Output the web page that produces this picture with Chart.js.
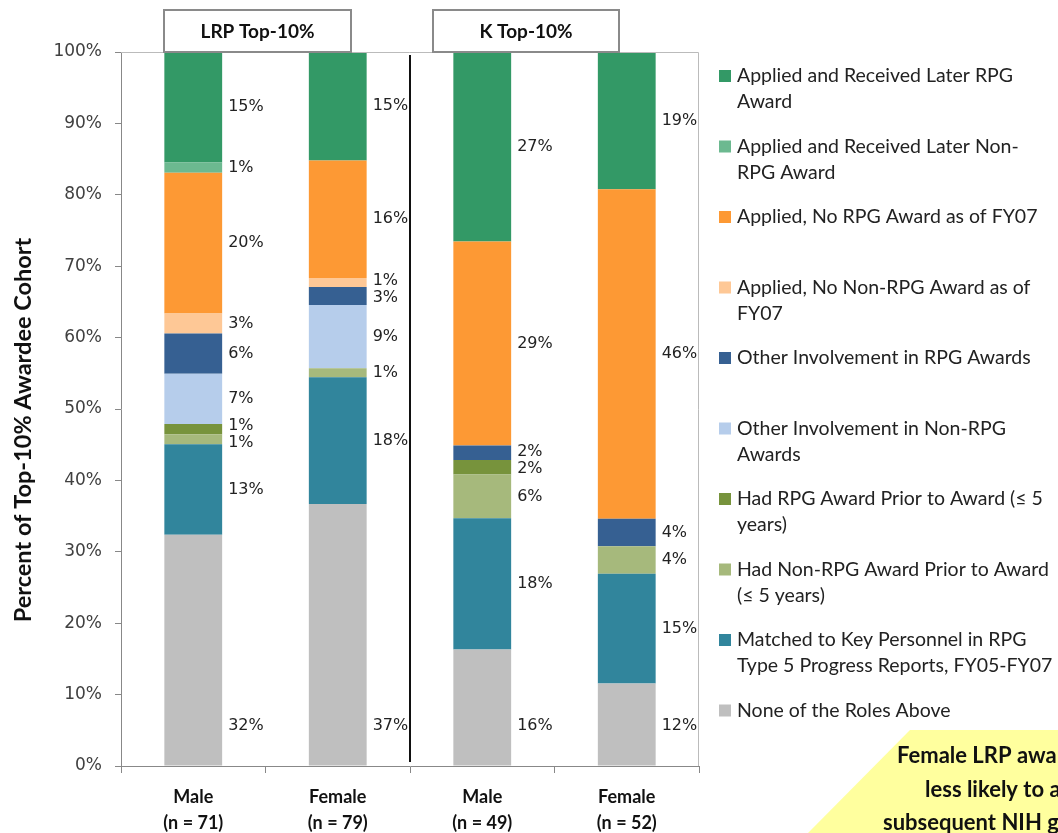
<!DOCTYPE html>
<html>
<head>
<meta charset="utf-8">
<title>Top-10% awardee cohort</title>
<script src="https://cdn.jsdelivr.net/npm/chart.js@4.4.1/dist/chart.umd.min.js"></script>
<style>
  html, body { margin: 0; padding: 0; background: #fff; }
  canvas { display: block; }
</style>
</head>
<body>
<canvas id="myChart" width="1058" height="833"></canvas>
<script>
// categories (two-line tick labels) and the cohort each pair belongs to
const categories = [['Male', '(n = 71)'], ['Female', '(n = 79)'], ['Male', '(n = 49)'], ['Female', '(n = 52)']];
const groupLabels = ['LRP Top-10%', 'K Top-10%'];
const yTicks = [0, 10, 20, 30, 40, 50, 60, 70, 80, 90, 100];

// series, bottom of the stack first (percent of cohort)
const noneOfRoles      = [32.39, 36.71, 16.33, 11.54];
const matchedKeyPers   = [12.68, 17.72, 18.37, 15.38];
const nonRpgPrior      = [1.41, 1.27, 6.12, 3.85];
const rpgPrior         = [1.41, 0, 2.04, 0];
const otherNonRpg      = [7.04, 8.86, 0, 0];
const otherRpg         = [5.63, 2.53, 2.04, 3.85];
const appliedNoNonRpg  = [2.82, 1.27, 0, 0];
const appliedNoRpg     = [19.72, 16.46, 28.57, 46.15];
const receivedNonRpg   = [1.41, 0, 0, 0];
const receivedRpg      = [15.49, 15.19, 26.53, 19.23];

// legend text as it wraps in the original
const seriesNames = [
  ['None of the Roles Above'],
  ['Matched to Key Personnel in RPG', 'Type 5 Progress Reports, FY05-FY07'],
  ['Had Non-RPG Award Prior to Award', '(≤ 5 years)'],
  ['Had RPG Award Prior to Award (≤ 5', 'years)'],
  ['Other Involvement in Non-RPG', 'Awards'],
  ['Other Involvement in RPG Awards'],
  ['Applied, No Non-RPG Award as of', 'FY07'],
  ['Applied, No RPG Award as of FY07'],
  ['Applied and Received Later Non-', 'RPG Award'],
  ['Applied and Received Later RPG', 'Award']
];
const seriesValues = [noneOfRoles, matchedKeyPers, nonRpgPrior, rpgPrior, otherNonRpg,
  otherRpg, appliedNoNonRpg, appliedNoRpg, receivedNonRpg, receivedRpg];
const seriesColors = ['#BFBFBF', '#31859C', '#A6B97C', '#77933C', '#B6CDEB',
  '#366092', '#FEC896', '#FD9934', '#6CB990', '#339966'];

const calloutLines = ['Female LRP awardees were', 'less likely to apply for', 'subsequent NIH grants'];

// value labels to the right of each segment, nudged apart when they crowd
const segmentLabels = {
  id: 'segmentLabels',
  afterDatasetsDraw(chart) {
    const ctx = chart.ctx;
    ctx.save();
    ctx.font = '16px "DejaVu Sans"';
    ctx.fillStyle = '#222';
    ctx.textAlign = 'left';
    ctx.textBaseline = 'middle';
    categories.forEach((c, i) => {
      let items = [];
      chart.data.datasets.forEach((ds, d) => {
        const v = ds.data[i];
        if (!v) return;
        const bar = chart.getDatasetMeta(d).data[i];
        let y = (bar.y + bar.base) / 2;
        // the bottom (grey) segment keeps its label near the axis
        if (d === 0) y = Math.max(y, bar.base - 40);
        items.push({ y: y, x: bar.x + bar.width / 2 + 6, text: Math.round(v) + '%' });
      });
      items.sort((a, b) => a.y - b.y);
      for (let k = 0; k < 30; k++) {
        for (let j = 1; j < items.length; j++) {
          const gap = items[j].y - items[j - 1].y;
          if (gap < 17) {
            const push = (17 - gap) / 2;
            items[j].y += push;
            items[j - 1].y -= push;
          }
        }
      }
      items.forEach(it => ctx.fillText(it.text, it.x, it.y));
    });
    ctx.restore();
  }
};

// plot frame, group divider, header boxes, y title, legend, callout
const decorations = {
  id: 'decorations',
  afterDraw(chart) {
    const ctx = chart.ctx;
    const area = chart.chartArea;
    const x = chart.scales.x;
    ctx.save();

    ctx.strokeStyle = '#BBBBBB';
    ctx.lineWidth = 1;
    ctx.beginPath();
    ctx.moveTo(area.left, area.top + 0.5);
    ctx.lineTo(area.right - 0.5, area.top + 0.5);
    ctx.lineTo(area.right - 0.5, area.bottom);
    ctx.stroke();

    const mid = Math.round(x.getPixelForValue(1.5));
    ctx.strokeStyle = '#111';
    ctx.lineWidth = 2;
    ctx.beginPath();
    ctx.moveTo(mid, area.top + 3);
    ctx.lineTo(mid, area.bottom - 4);
    ctx.stroke();

    const boxes = [[164, 187], [433, 186]];
    groupLabels.forEach((g, i) => {
      const [bx, bw] = boxes[i];
      ctx.fillStyle = '#fff';
      ctx.fillRect(bx, 10, bw, 42);
      ctx.strokeStyle = '#8A8A8A';
      ctx.lineWidth = 2;
      ctx.strokeRect(bx, 10, bw, 42);
      ctx.fillStyle = '#111';
      ctx.font = 'bold 19px Lato';
      ctx.textAlign = 'center';
      ctx.textBaseline = 'middle';
      ctx.fillText(g, bx + bw / 2, 32);
    });

    ctx.save();
    ctx.translate(23, 430);
    ctx.rotate(-Math.PI / 2);
    ctx.font = 'bold 23.5px Lato';
    ctx.fillStyle = '#111';
    ctx.textAlign = 'center';
    ctx.textBaseline = 'middle';
    ctx.fillText('Percent of Top-10% Awardee Cohort', 0, 0);
    ctx.restore();

    ctx.font = '19.5px Lato';
    ctx.textAlign = 'left';
    ctx.textBaseline = 'middle';
    for (let k = 0; k < seriesNames.length; k++) {
      const s = seriesNames.length - 1 - k;
      const y0 = 76 + k * 70.5;
      ctx.fillStyle = seriesColors[s];
      ctx.fillRect(719, y0 - 6, 12, 12);
      ctx.fillStyle = '#222';
      seriesNames[s].forEach((line, l) => ctx.fillText(line, 737, y0 + l * 26));
    }

    ctx.fillStyle = '#FFFF9E';
    ctx.beginPath();
    ctx.moveTo(910, 730);
    ctx.lineTo(1058, 730);
    ctx.lineTo(1058, 833);
    ctx.lineTo(808, 833);
    ctx.closePath();
    ctx.fill();
    ctx.fillStyle = '#111';
    ctx.font = 'bold 22px Lato';
    const starts = [897, 925, 883];
    calloutLines.forEach((t, i) => ctx.fillText(t, starts[i], 756 + i * 33.5));

    ctx.restore();
  }
};

const config = {
  type: 'bar',
  data: {
    labels: categories,
    datasets: seriesValues.map((vals, i) => ({
      label: seriesNames[i].join(' '),
      data: vals,
      backgroundColor: seriesColors[i],
      borderWidth: 0,
      barPercentage: 0.4,
      categoryPercentage: 1
    }))
  },
  options: {
    responsive: false,
    animation: false,
    layout: { padding: { top: 52, right: 359, bottom: 0, left: 0 } },
    plugins: {
      legend: { display: false },
      tooltip: { enabled: false }
    },
    scales: {
      x: {
        stacked: true,
        afterFit(scale) { scale.height = 67; },
        grid: { offset: true, drawOnChartArea: false, drawTicks: true, tickLength: 7, color: '#888' },
        border: { color: '#888' },
        ticks: { color: '#111', font: { family: 'Lato', size: 18, weight: 'bold', lineHeight: 1.4 }, padding: 12, maxRotation: 0 }
      },
      y: {
        stacked: true,
        min: 0,
        max: 100,
        afterFit(scale) { scale.width = 121; },
        afterBuildTicks(scale) { scale.ticks = yTicks.map(v => ({ value: v })); },
        grid: { drawOnChartArea: false, drawTicks: true, tickLength: 6, color: '#888' },
        border: { color: '#888' },
        ticks: { color: '#404040', font: { family: 'DejaVu Sans', size: 17 }, padding: 13, callback: v => v + '%' }
      }
    }
  },
  plugins: [segmentLabels, decorations]
};

const ctx = document.getElementById('myChart').getContext('2d');
const myChart = new Chart(ctx, config);
</script>
</body>
</html>
